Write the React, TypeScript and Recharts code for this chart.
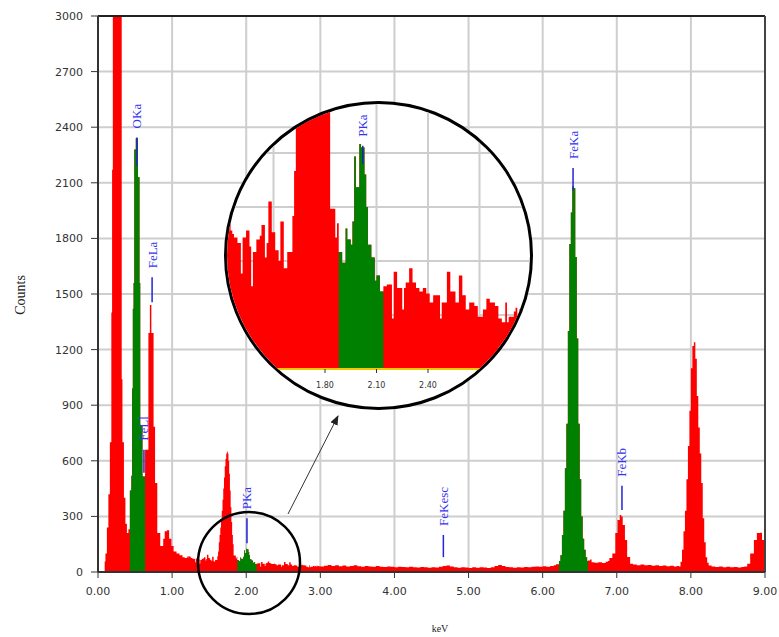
import { AreaChart, Area, XAxis, YAxis, CartesianGrid, ReferenceLine } from 'recharts';

// EDS spectrum, [keV, counts]
const lowEnergyRegion: [number, number][] = [
  [0, 0], [0.08, 0], [0.09, 56], [0.10, 100], [0.12, 240], [0.14, 420], [0.16, 700], [0.18, 1400],
  [0.19, 2170], [0.20, 3600], [0.21, 4200], [0.30, 3600], [0.32, 1040], [0.33, 700], [0.35, 400],
  [0.37, 260], [0.39, 210], [0.41, 230], [0.43, 440], [0.45, 520], [0.46, 990], [0.47, 1420],
  [0.48, 1560], [0.49, 2280], [0.51, 2340], [0.54, 2130], [0.56, 1560], [0.57, 790], [0.60, 515],
  [0.635, 660], [0.66, 660], [0.68, 1290], [0.70, 1440], [0.72, 1290], [0.75, 784], [0.77, 480],
  [0.80, 210], [0.84, 140], [0.88, 180], [0.90, 220], [0.93, 225], [0.96, 180], [0.99, 140],
  [1.02, 110], [1.06, 100], [1.10, 90], [1.14, 80], [1.17, 75],
];

// 1.2 - 3.0 keV, read from the magnified view
const zoomRegion: [number, number][] = [
  [1.20, 84], [1.21, 78], [1.22, 86], [1.23, 83], [1.24, 83], [1.25, 77], [1.26, 75], [1.27, 73],
  [1.28, 73], [1.29, 70], [1.30, 70], [1.31, 53], [1.32, 73], [1.33, 73], [1.34, 77], [1.35, 77],
  [1.36, 68], [1.37, 46], [1.38, 65], [1.39, 65], [1.40, 72], [1.41, 72], [1.42, 74], [1.43, 80],
  [1.44, 80], [1.45, 62], [1.46, 70], [1.47, 93], [1.48, 93], [1.49, 76], [1.50, 76], [1.51, 66],
  [1.52, 66], [1.53, 60], [1.54, 82], [1.55, 82], [1.56, 56], [1.57, 56], [1.58, 65], [1.59, 65],
  [1.60, 65], [1.61, 85], [1.62, 110], [1.63, 160], [1.64, 200], [1.65, 240], [1.66, 280], [1.67, 330],
  [1.68, 390], [1.69, 450], [1.70, 510], [1.71, 570], [1.72, 610], [1.73, 640], [1.74, 650], [1.75, 640],
  [1.76, 600], [1.77, 530], [1.78, 440], [1.79, 350], [1.80, 270], [1.81, 200], [1.82, 150], [1.83, 89],
  [1.84, 89], [1.85, 89], [1.86, 73], [1.87, 81], [1.88, 65], [1.89, 65], [1.90, 59], [1.91, 59],
  [1.92, 78], [1.93, 72], [1.94, 72], [1.95, 69], [1.96, 82], [1.97, 118], [1.98, 101], [1.99, 101],
  [2.00, 125], [2.01, 123], [2.02, 123], [2.03, 108], [2.04, 90], [2.05, 69], [2.06, 69], [2.07, 62],
  [2.08, 62], [2.09, 49], [2.10, 52], [2.11, 52], [2.12, 43], [2.13, 43], [2.14, 46], [2.15, 46],
  [2.16, 47], [2.17, 47], [2.18, 47], [2.19, 28], [2.20, 54], [2.21, 54], [2.22, 45], [2.23, 45],
  [2.24, 45], [2.25, 33], [2.26, 45], [2.27, 48], [2.28, 48], [2.29, 56], [2.30, 56], [2.31, 48],
  [2.32, 48], [2.33, 45], [2.34, 45], [2.35, 43], [2.36, 43], [2.37, 45], [2.38, 45], [2.39, 42],
  [2.40, 42], [2.41, 37], [2.42, 37], [2.43, 41], [2.44, 41], [2.45, 41], [2.46, 41], [2.47, 28],
  [2.48, 37], [2.49, 37], [2.50, 37], [2.51, 54], [2.52, 54], [2.53, 43], [2.54, 43], [2.55, 43],
  [2.56, 37], [2.57, 37], [2.58, 52], [2.59, 52], [2.60, 41], [2.61, 41], [2.62, 33], [2.63, 33],
  [2.64, 37], [2.65, 37], [2.66, 37], [2.67, 35], [2.68, 35], [2.69, 29], [2.70, 29], [2.71, 29],
  [2.72, 33], [2.73, 33], [2.74, 39], [2.75, 39], [2.76, 37], [2.77, 37], [2.78, 37], [2.79, 35],
  [2.80, 35], [2.81, 28], [2.82, 28], [2.83, 26], [2.84, 26], [2.85, 37], [2.86, 26], [2.87, 29],
  [2.88, 29], [2.89, 29], [2.90, 32], [2.91, 34], [2.92, 30], [2.93, 33], [2.94, 30], [2.95, 35],
  [2.96, 31], [2.97, 33], [2.98, 30], [2.99, 32], [3.00, 30],
];

const midRegion: [number, number][] = [
  [3.05, 34], [3.10, 38], [3.15, 33], [3.20, 36], [3.25, 31], [3.30, 35], [3.35, 30], [3.40, 33],
  [3.45, 36], [3.50, 31], [3.55, 29], [3.60, 33], [3.65, 30], [3.70, 28], [3.75, 32], [3.80, 29],
  [3.85, 27], [3.90, 30], [3.95, 28], [4.00, 26], [4.05, 29], [4.10, 27], [4.15, 25], [4.20, 28],
  [4.25, 26], [4.30, 24], [4.35, 27], [4.40, 25], [4.45, 23], [4.50, 26], [4.55, 24], [4.60, 28],
  [4.65, 32], [4.70, 35], [4.75, 30], [4.80, 25], [4.85, 23], [4.90, 26], [4.95, 24], [5.00, 22],
  [5.05, 25], [5.10, 23], [5.15, 26], [5.20, 24], [5.25, 22], [5.30, 26], [5.35, 32], [5.40, 38],
  [5.45, 33], [5.50, 27], [5.55, 25], [5.60, 23], [5.65, 26], [5.70, 24], [5.75, 27], [5.80, 25],
  [5.85, 28], [5.90, 30], [5.95, 28], [6.00, 31], [6.05, 29], [6.10, 33], [6.15, 36], [6.18, 42],
];

const ironKRegion: [number, number][] = [
  [6.22, 60], [6.24, 90], [6.26, 200], [6.28, 330], [6.30, 560], [6.32, 800], [6.34, 1300],
  [6.36, 1770], [6.38, 1940], [6.40, 2080], [6.42, 2070], [6.44, 1700], [6.46, 1260], [6.48, 800],
  [6.50, 500], [6.52, 300], [6.54, 180], [6.56, 120], [6.58, 80], [6.60, 60], [6.61, 62],
  [6.64, 68], [6.66, 52], [6.70, 50], [6.75, 52], [6.80, 48], [6.85, 55], [6.88, 60], [6.90, 75],
  [6.94, 100], [6.98, 210], [7.01, 280], [7.04, 307], [7.06, 300], [7.08, 253], [7.11, 173],
  [7.14, 81], [7.18, 45], [7.22, 40], [7.27, 37], [7.32, 41], [7.37, 36], [7.42, 38], [7.47, 34],
  [7.52, 37], [7.57, 33], [7.62, 35], [7.67, 31], [7.72, 34], [7.77, 30], [7.81, 33],
];

const copperKRegion: [number, number][] = [
  [7.84, 30], [7.86, 55], [7.88, 120], [7.90, 220], [7.92, 330], [7.94, 500], [7.96, 680],
  [7.98, 870], [8.00, 1100], [8.02, 1220], [8.04, 1240], [8.06, 1150], [8.08, 950], [8.10, 780],
  [8.12, 640], [8.14, 480], [8.16, 290], [8.18, 160], [8.20, 80], [8.22, 50], [8.24, 35],
  [8.28, 30], [8.33, 27], [8.38, 30], [8.43, 26], [8.48, 28], [8.53, 25], [8.58, 27], [8.63, 24],
  [8.68, 27], [8.72, 30], [8.76, 45], [8.80, 100], [8.85, 173], [8.89, 210], [8.93, 212],
  [8.96, 173], [8.99, 100], [9.00, 100],
];

// identified peak regions (green)
const roiStart = [0.43, 1.88, 6.22];
const roiEnd = [0.635, 2.14, 6.61];

const markerNames = ['OKa', 'FeLl', 'FeLa', 'PKa', 'FeKesc', 'FeKa', 'FeKb'];
const markerKeV = [0.525, 0.62, 0.73, 2.01, 4.66, 6.41, 7.07];
const markerTop = [2345, 660, 1590, 290, 200, 2180, 465];
const markerBottom = [2190, 535, 1455, 155, 80, 2060, 335];

const insetMarkerName = 'PKa';
const insetMarkerKeV = 2.02;
const insetMarkerTop = 124;
const insetMarkerBottom = 114;

const xTicks = [0, 1, 2, 3, 4, 5, 6, 7, 8, 9];
const yTicks = [0, 300, 600, 900, 1200, 1500, 1800, 2100, 2400, 2700, 3000];
const insetXTicks = [1.5, 1.8, 2.1, 2.4, 2.7];
const insetYTicks = [0, 30, 60, 90, 120, 150];

const spectrum = [...lowEnergyRegion, ...zoomRegion, ...midRegion, ...ironKRegion, ...copperKRegion];
const data = spectrum.map(([e, c]) => ({
  e,
  total: c,
  roi: roiStart.some((s, i) => e >= s - 1e-9 && e <= roiEnd[i] + 1e-9) ? c : null,
}));

const RED = '#ff0000';
const GREEN = '#008000';
const BLUE = '#3535ee';
const GRID = '#cecece';
const TICK_FONT = 'DejaVu Sans';
const SERIF = 'Liberation Serif';

const markerLabel = (name: string) => (props: any) => {
  const vb = props.viewBox || {};
  const x = vb.x ?? 0;
  const y = (vb.y ?? 0) - 9;
  return (
    <text
      x={x}
      y={y}
      transform={`rotate(-90 ${x} ${y})`}
      textAnchor="start"
      dominantBaseline="central"
      fill={BLUE}
      fontFamily={SERIF}
      fontSize={13}
    >
      {name}
    </text>
  );
};

function Inset() {
  return (
    <div
      style={{
        position: 'absolute',
        left: 224,
        top: 101,
        width: 309,
        height: 309,
        borderRadius: '50%',
        border: '3px solid #000',
        boxSizing: 'border-box',
        overflow: 'hidden',
        background: '#fff',
      }}
    >
      <div style={{ position: 'absolute', left: -5, top: -23 }}>
        <AreaChart width={309} height={328} data={data} margin={{ top: 0, right: 0, left: 0, bottom: 0 }}>
          <CartesianGrid
            stroke={GRID}
            strokeWidth={2}
            horizontalValues={insetYTicks}
            verticalValues={insetXTicks}
          />
          <XAxis
            dataKey="e"
            type="number"
            domain={[1.2, 3.0]}
            allowDataOverflow
            ticks={insetXTicks}
            tickFormatter={(v: number) => v.toFixed(2)}
            axisLine={false}
            tickSize={4}
            tickMargin={9}
            tickLine={{ stroke: '#333' }}
            tick={{ fill: '#333', fontSize: 8, fontFamily: TICK_FONT }}
            height={40}
          />
          <YAxis hide domain={[0, 160]} allowDataOverflow ticks={insetYTicks} />
          <Area type="stepAfter" dataKey="total" fill={RED} fillOpacity={1} stroke="none" isAnimationActive={false} dot={false} activeDot={false} />
          <Area type="stepAfter" dataKey="roi" fill={GREEN} fillOpacity={1} stroke="none" isAnimationActive={false} dot={false} activeDot={false} />
          <ReferenceLine y={0} stroke="#f5c800" strokeWidth={2} />
          <ReferenceLine
            segment={[{ x: insetMarkerKeV, y: insetMarkerBottom }, { x: insetMarkerKeV, y: insetMarkerTop }]}
            stroke="#2020c0"
            strokeWidth={1.5}
            label={markerLabel(insetMarkerName)}
          />
        </AreaChart>
      </div>
    </div>
  );
}

export default function App() {
  return (
    <div style={{ position: 'absolute', left: 0, top: 0, width: 779, height: 637, background: '#fff' }}>
      <AreaChart width={779} height={637} data={data} margin={{ top: 16, right: 14, left: 0, bottom: 0 }}>
        <CartesianGrid stroke={GRID} strokeWidth={2} />
        <XAxis
          dataKey="e"
          type="number"
          domain={[0, 9]}
          ticks={xTicks}
          tickFormatter={(v: number) => v.toFixed(2)}
          axisLine={{ stroke: '#333', strokeWidth: 2 }}
          tickLine={{ stroke: '#333' }}
          tickSize={6}
          tickMargin={9}
          tick={{ fill: '#333', fontSize: 11, fontFamily: TICK_FONT }}
          height={65}
        />
        <YAxis
          domain={[0, 3000]}
          allowDataOverflow
          ticks={yTicks}
          axisLine={{ stroke: '#333', strokeWidth: 2 }}
          tickLine={{ stroke: '#333' }}
          tickSize={7}
          tickMargin={8}
          tick={{ fill: '#333', fontSize: 11, fontFamily: TICK_FONT }}
          width={98}
        />
        <Area type="stepAfter" dataKey="total" fill={RED} fillOpacity={1} stroke="none" isAnimationActive={false} dot={false} activeDot={false} />
        <Area type="stepAfter" dataKey="roi" fill={GREEN} fillOpacity={1} stroke="none" isAnimationActive={false} dot={false} activeDot={false} />
        <ReferenceLine y={0} stroke="#f5c800" strokeWidth={2} />
        <ReferenceLine y={3000} stroke="#222" strokeWidth={2} />
        <ReferenceLine x={9} stroke="#444" strokeWidth={2} />
        {markerNames.map((name, i) => (
          <ReferenceLine
            key={name}
            segment={[{ x: markerKeV[i], y: markerBottom[i] }, { x: markerKeV[i], y: markerTop[i] }]}
            stroke="#2424d8"
            strokeWidth={1.5}
            label={markerLabel(name)}
          />
        ))}
      </AreaChart>
      <Inset />
      <svg width={779} height={637} style={{ position: 'absolute', left: 0, top: 0, pointerEvents: 'none' }}>
        <defs>
          <marker id="arrowHead" markerWidth="10" markerHeight="8" refX="9" refY="4" orient="auto" markerUnits="userSpaceOnUse">
            <path d="M0,0 L10,4 L0,8 Z" fill="#222" />
          </marker>
        </defs>
        <circle cx={249} cy={563} r={51} fill="none" stroke="#000" strokeWidth={2.5} />
        <line x1={288} y1={514} x2={338} y2={416} stroke="#333" strokeWidth={1} markerEnd="url(#arrowHead)" />
        <text x={20} y={295} transform="rotate(-90 20 295)" textAnchor="middle" dominantBaseline="central" fontFamily={SERIF} fontSize={14} fill="#222">
          Counts
        </text>
        <text x={440} y={628} textAnchor="middle" dominantBaseline="central" fontFamily={SERIF} fontSize={10} fill="#222">
          keV
        </text>
      </svg>
    </div>
  );
}
